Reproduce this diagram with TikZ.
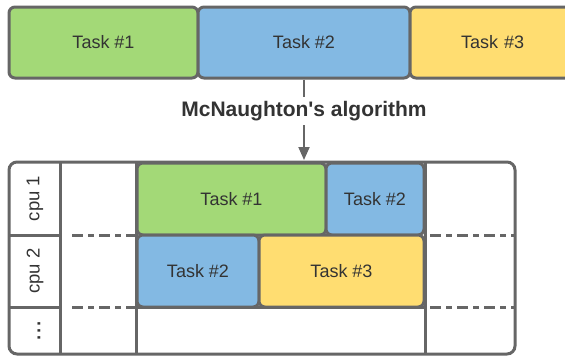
\documentclass[tikz,border=0pt]{standalone}
\usepackage{fontspec}
\setmainfont{Liberation Sans}
\newfontfamily\algofont{Liberation Sans}
\usepackage{xcolor}
\usetikzlibrary{arrows.meta}
\definecolor{taskgreen}{HTML}{A3D977}
\definecolor{taskblue}{HTML}{83B9E3}
\definecolor{taskyellow}{HTML}{FFDD71}
\definecolor{edgegray}{HTML}{666666}
\definecolor{textgray}{HTML}{333333}
\tikzset{taskbox/.style={draw=edgegray,line width=3pt,rounded corners=6pt,inner sep=0pt,
    text=textgray,font=\fontsize{18}{20}\selectfont}}
\tikzset{gridline/.style={draw=edgegray,line width=3pt}}
\tikzset{cutline/.style={gridline,dash pattern=on 11pt off 5pt on 6pt off 5pt}}
\tikzset{cpulabel/.style={rotate=90,text=textgray,font=\fontsize{18.5}{20}\selectfont}}

\begin{document}
\begin{tikzpicture}[x=1pt,y=-1pt]
            \useasboundingbox (0,0) rectangle (565,356);
            \clip (0,0) rectangle (565,356);
            % tasks before scheduling
            \node[taskbox,fill=taskgreen,minimum width=189pt,minimum height=71pt] (top1) at (103.5,42.5) {Task \#1};
            \node[taskbox,fill=taskblue,minimum width=212pt,minimum height=71pt] (top2) at (304,42.5) {Task \#2};
            \node[taskbox,fill=taskyellow,minimum width=170pt,minimum height=71pt,text width=164pt,align=left] (top3) at (495,42.5) {\hspace{48pt}Task \#3};

            % the algorithm
            \coordinate (tabletop) at (304,160);
            \draw[draw=edgegray,line width=2pt,-{Triangle[length=13pt,width=11pt]}] (top2.south) -- (tabletop)
                node[pos=0.39,fill=white,inner sep=4pt,text=textgray,font=\algofont\bfseries\fontsize{21}{23}\selectfont] (algo) {McNaughton's algorithm};

            % scheduled tasks
            \node[taskbox,fill=taskgreen,minimum width=189pt,minimum height=72pt] (cpu1a) at (231.5,199) {Task \#1};
            \node[taskbox,fill=taskblue,minimum width=98pt,minimum height=72pt] (cpu1b) at (375,199) {Task \#2};
            \node[taskbox,fill=taskblue,minimum width=122pt,minimum height=72pt] (cpu2a) at (198,271) {Task \#2};
            \node[taskbox,fill=taskyellow,minimum width=165pt,minimum height=72pt] (cpu2b) at (341.5,271) {Task \#3};

            % the table
            \draw[gridline,rounded corners=8pt] (9,162) rectangle (515,354);
            \foreach \x in {60,136,425}
                \draw[gridline] (\x,162) -- (\x,354);
            \foreach \y in {235,307}{
                \draw[gridline] (9,\y) -- (60,\y);
                \draw[cutline] (72,\y) -- (136,\y);
                \draw[cutline] (430,\y) -- (515,\y);
            }
            \draw[gridline] (136,307) -- (425,307);

            % processors
            \node[cpulabel] (cpu1) at (35,198.5) {cpu 1};
            \node[cpulabel] (cpu2) at (35,271) {cpu 2};
            \node[cpulabel,font=\fontsize{26}{28}\selectfont] (cpun) at (39,331) {...};
        \end{tikzpicture}
\end{document}
